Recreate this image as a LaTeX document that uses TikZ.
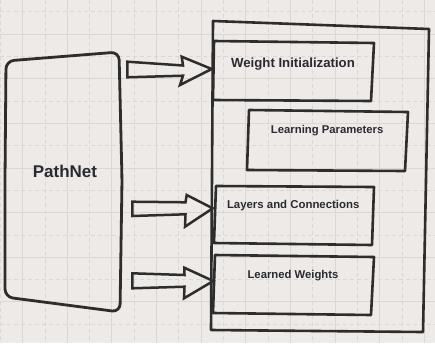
\documentclass[tikz,border=0pt]{standalone}
\usepackage{fontspec}
\setmainfont{Liberation Sans}
\definecolor{bg}{RGB}{237,234,231}
\definecolor{gridc}{RGB}{218,215,212}
\definecolor{ink}{RGB}{45,45,45}
\definecolor{txt}{RGB}{42,42,50}
\begin{document}
\begin{tikzpicture}[x=1pt,y=-1pt,
  outline/.style={draw=ink,line width=2.6pt,line join=round},
  lbl/.style={text=txt,font=\bfseries,inner sep=0pt,anchor=base}]
\useasboundingbox (0,0) rectangle (435,343);
\fill[bg] (0,0) rectangle (435,343);
% grid
\foreach \k in {0,...,19} {
  \pgfmathsetmacro\xx{0.3+\k*22.33}
  \pgfmathtruncatemacro\ev{mod(\k,2)}
  \ifnum\ev=0
    \draw[gridc,line width=0.9pt,dash pattern=on 4pt off 3pt] (\xx,0)--(\xx,343);
  \else
    \draw[gridc,line width=1pt] (\xx,0)--(\xx,343);
  \fi
}
\foreach \k in {0,...,15} {
  \pgfmathsetmacro\yy{11.7+\k*22.33}
  \pgfmathtruncatemacro\ev{mod(\k,2)}
  \ifnum\ev=0
    \draw[gridc,line width=0.9pt,dash pattern=on 4pt off 3pt] (0,\yy)--(435,\yy);
  \else
    \draw[gridc,line width=1pt] (0,\yy)--(435,\yy);
  \fi
}
% PathNet shape
\draw[outline,line width=2.8pt,rounded corners=8pt]
  (6,61) -- (119,52) -- (122,180) -- (120,312) -- (5,297) -- (5,180) -- cycle;
\node[lbl,font=\bfseries\fontsize{17}{20}\selectfont] (pathnet) at (65,177.3) {PathNet};
% outer container
\draw[outline] (213,21) -- (429,29) -- (423,332) -- (211,330) -- cycle;
% inner boxes
\draw[outline] (214,41) -- (374,43) -- (371,101) -- (213,100) -- cycle;
\node[lbl,font=\bfseries\fontsize{13.2}{16}\selectfont] (wi) at (293,67) {Weight Initialization};
\draw[outline] (249,110) -- (408,112) -- (405,171) -- (247,170) -- cycle;
\node[lbl,font=\bfseries\fontsize{11.3}{14}\selectfont] (lp) at (327.2,133.3) {Learning Parameters};
\draw[outline] (216,186) -- (374,187) -- (372,245) -- (214,243) -- cycle;
\node[lbl,font=\bfseries\fontsize{11.4}{14}\selectfont] (lc) at (293.2,208) {Layers and Connections};
\draw[outline] (215,255) -- (374,257) -- (371,315) -- (213,313) -- cycle;
\node[lbl,font=\bfseries\fontsize{11.3}{14}\selectfont] (lw) at (293,278) {Learned Weights};
% block arrows
\draw[outline,line width=2.5pt,line join=miter] (127.3,61.7) -- (183,65.5) -- (181.7,56.7) -- (211.7,69) -- (180,85) -- (183,75.7) -- (127.3,77.3) -- cycle;
\draw[outline,line width=2.5pt,line join=miter] (132.3,201.7) -- (185.5,202.3) -- (186.7,195) -- (212.7,208.3) -- (185,226.7) -- (185.5,214.3) -- (132.3,216) -- cycle;
\draw[outline,line width=2.5pt,line join=miter] (132.3,273.3) -- (184.5,275) -- (184.3,267.7) -- (213.3,281) -- (184,298.3) -- (184.5,286.7) -- (132.3,288.3) -- cycle;
\end{tikzpicture}
\end{document}
